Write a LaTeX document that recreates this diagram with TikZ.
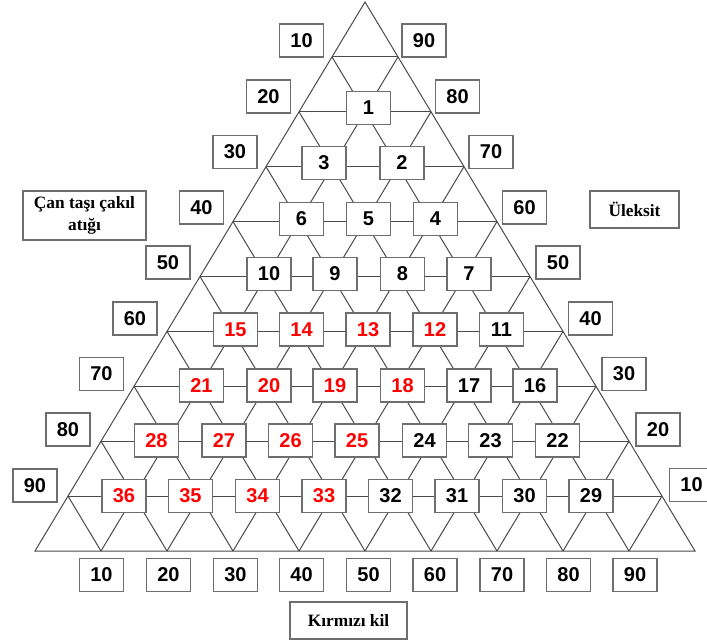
\documentclass[tikz,border=0pt]{standalone}
\usepackage{fontspec}
\setmainfont{Liberation Serif}
\setsansfont{Liberation Sans}
\usetikzlibrary{calc}
\definecolor{boxgray}{RGB}{110,110,110}
\definecolor{gridgray}{RGB}{75,75,75}
\definecolor{numred}{RGB}{255,0,0}
\tikzset{
  grid line/.style={
    draw=gridgray, line width=0.75pt
  },
  num box/.style={
    rectangle, draw=boxgray, line width=1.1pt, fill=white, inner sep=0pt,
    minimum width=33pt, minimum height=24.75pt,
    font=\sffamily\bfseries\fontsize{15}{17}\selectfont
  },
  name box/.style={
    rectangle, draw=boxgray, line width=1.1pt, fill=white, inner sep=0pt,
    align=center, font=\rmfamily\bfseries\fontsize{13}{16.5}\selectfont
  }
}

\begin{document}
\begin{tikzpicture}[x=0.75pt, y=-0.75pt]
% ------------------------------------------------
% 画布与裁剪
% ------------------------------------------------
\fill[white] (0,0) rectangle (707,643);
\clip (0,0) rectangle (707,643);

% ------------------------------------------------
% 大三角形及三角网格
% ------------------------------------------------
\coordinate (bl) at ( 35,551);
\coordinate (br) at (695,551);
\coordinate (tp) at (365,  2);
\draw[grid line] (bl) -- (br) -- (tp) -- cycle;
\foreach \k in {1,...,9} {
  \draw[grid line] ($(bl)!\k/10!(tp)$) -- ($(br)!\k/10!(tp)$);
  \draw[grid line] ($(bl)!\k/10!(br)$) -- ($(tp)!\k/10!(br)$);
  \draw[grid line] ($(bl)!\k/10!(br)$) -- ($(bl)!\k/10!(tp)$);
}

% ------------------------------------------------
% 编号方框 1--36（左侧四列为红色）
% ------------------------------------------------
\foreach \n/\x/\y/\c in {
  1/368.5/108/black,
  3/324/163/black, 2/402/163/black,
  6/301.5/219/black, 5/368.5/219/black, 4/435.5/219/black,
  10/269/274/black, 9/335/274/black, 8/402.5/274/black, 7/469/274/black,
  15/235.5/329.5/numred, 14/301.5/329.5/numred, 13/368/329.5/numred,
  12/435/329.5/numred, 11/501.5/329.5/black,
  21/201.5/385.5/numred, 20/269/385.5/numred, 19/335/385.5/numred,
  18/402.5/385.5/numred, 17/469/385.5/black, 16/535/385.5/black,
  28/156.5/440.5/numred, 27/224/440.5/numred, 26/290.5/440.5/numred,
  25/357/440.5/numred, 24/424.5/440.5/black, 23/490.5/440.5/black,
  22/557.5/440.5/black,
  36/124/496/numred, 35/190.5/496/numred, 34/257.5/496/numred,
  33/324/496/numred, 32/390.5/496/black, 31/457/496/black,
  30/524.5/496/black, 29/591/496/black}
  \node[num box, text=\c] (n\n) at (\x,\y) {\n};

% ------------------------------------------------
% 三条边上的刻度
% ------------------------------------------------
\foreach \v/\x/\y in {10/301.5/40.5, 20/268.5/96.5, 30/235/152,
  40/201.5/207.5, 50/168/262.5, 60/135/318.5, 70/101.5/374,
  80/68/429.5, 90/35/485.5}
  \node[num box] (left\v) at (\x,\y) {\v};
\foreach \v/\x/\y in {90/424/40.5, 80/457.5/96.5, 70/491/152,
  60/524.5/207.5, 50/558/262.5, 40/590.5/318.5, 30/624/374,
  20/658/429.5, 10/691.5/485}
  \node[num box] (right\v) at (\x,\y) {\v};
\foreach \v/\x in {10/101.5, 20/168.5, 30/235.5, 40/301.5, 50/368.5,
  60/435, 70/502, 80/568.5, 90/635}
  \node[num box] (bot\v) at (\x,575) {\v};

% ------------------------------------------------
% 三个端元名称
% ------------------------------------------------
\node[name box, minimum width=92pt, minimum height=37pt] (can)
  at (84.5,215.5) {Çan taşı çakıl\\atığı};
\node[name box, minimum width=67pt, minimum height=28pt] (uleksit)
  at (634.5,209.5) {Üleksit};
\node[name box, minimum width=88pt, minimum height=28pt] (kil)
  at (348.5,620.5) {Kırmızı kil};
\end{tikzpicture}
\end{document}
